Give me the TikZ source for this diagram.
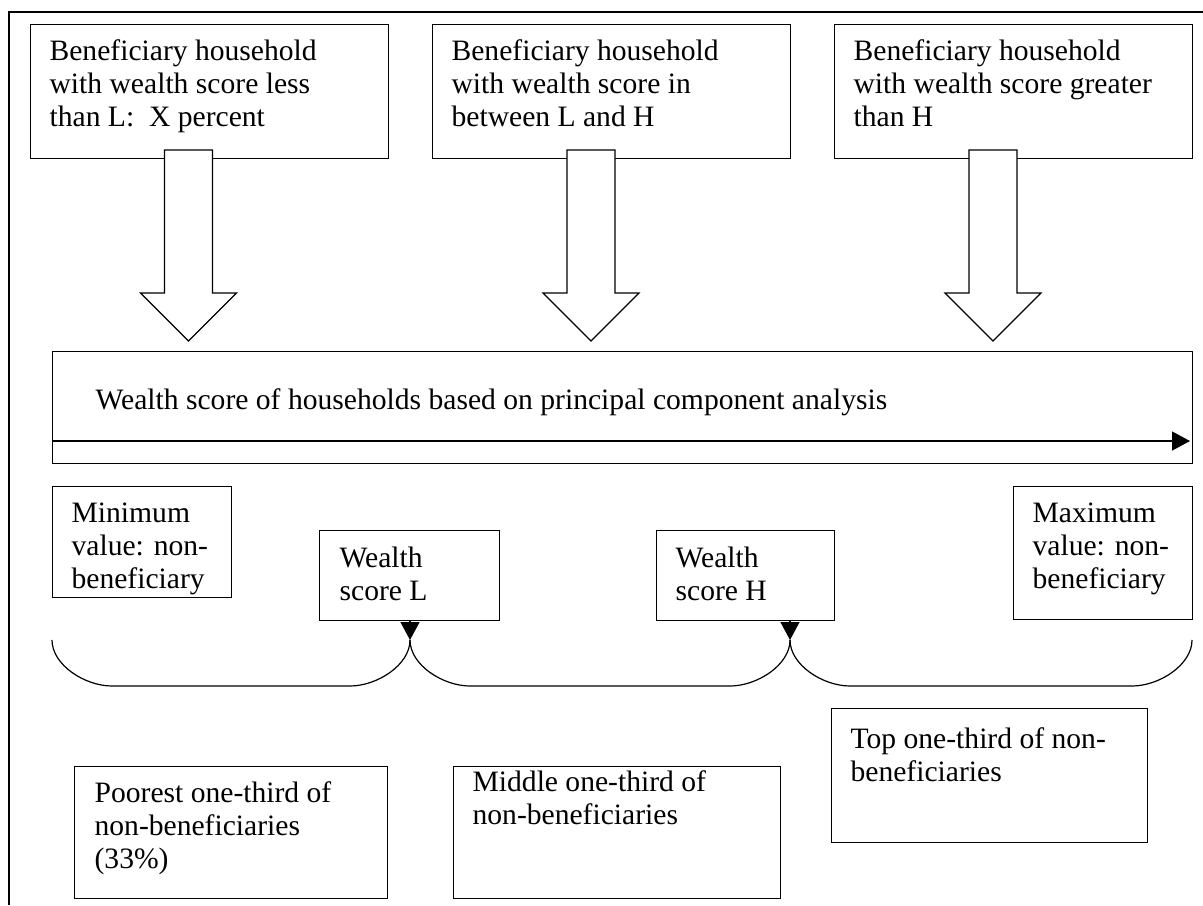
\documentclass[tikz,border=0pt]{standalone}
\usepackage{fontspec}
\setmainfont{Liberation Serif}
\usetikzlibrary{arrows.meta}

% width, height, left margin, first baseline, text
\newcommand{\boxtext}[5]{\parbox[c][#2][t]{#1}{\raggedright\leftskip=#3\relax\rule{0pt}{#4}#5}}

\begin{document}
\begin{tikzpicture}[x=0.5pt,y=-0.5pt,line width=0.6pt]
    \tikzstyle{every node}=[font=\fontsize{14.8}{16.5}\selectfont]
    \tikzstyle{hbox}=[draw,fill=white,inner sep=0pt,anchor=north west]
    \tikzstyle{blockarrow}=[draw,fill=white,line join=miter]
    \tikzstyle{tri}=[-{Triangle[length=9pt,width=9.5pt]}]

    \useasboundingbox (0,0) rectangle (1203,905);
    \draw[line width=0.8pt] (9,905) -- (9,12) -- (1203,12);

    % Beneficiary households
    \node[hbox] (ben-1) at (30,24) {\boxtext{179pt}{67pt}{9.5pt}{18pt}{Beneficiary household\\with wealth score less\\than L:\ \ X percent}};
    \node[hbox] (ben-2) at (432,24) {\boxtext{179pt}{67pt}{9.5pt}{18pt}{Beneficiary household\\with wealth score in\\between L and H}};
    \node[hbox] (ben-3) at (834,24) {\boxtext{179pt}{67pt}{9.5pt}{18pt}{Beneficiary household\\with wealth score greater\\than H}};

    % Block arrows down to the scale
    \foreach \name / \x in {1/188.5, 2/591, 3/993} {
        \coordinate (A-\name) at (\x,150);
        \draw[blockarrow] (A-\name) ++(-24,0) -- ++(48,0) -- ++(0,143) -- ++(24,0)
            -- ++(-48,48) -- ++(-48,-48) -- ++(24,0) -- cycle;
    }

    % Wealth score scale
    \node[hbox] (scale) at (52,351) {\boxtext{570pt}{56pt}{21.5pt}{29pt}{Wealth score of households based on principal component analysis}};
    \coordinate (s-l) at (52,441);
    \coordinate (s-r) at (1190,441);
    \draw[tri] (s-l) -- (s-r);

    % Points on the scale
    \node[hbox] (min) at (52,486) {\boxtext{89.5pt}{55.5pt}{9.5pt}{18pt}{Minimum\\value: non-\\beneficiary}};
    \node[hbox] (wsl) at (319,530) {\boxtext{90pt}{45pt}{10pt}{18.5pt}{Wealth\\score L}};
    \node[hbox] (wsh) at (656,530) {\boxtext{89pt}{45pt}{9.5pt}{18.5pt}{Wealth\\score H}};
    \node[hbox] (max) at (1013,486) {\boxtext{89.5pt}{66.5pt}{9.5pt}{18pt}{Maximum\\value: non-\\beneficiary}};

    \coordinate (J-L) at (410,640);
    \coordinate (J-H) at (790,640);
    \draw[tri] (wsl.south -| J-L) -- (J-L);
    \draw[tri] (wsh.south -| J-H) -- (J-H);

    % Braces for the three groups
    \foreach \a / \b in {52/410, 410/790, 790/1192}
        \draw (\a,640) .. controls (\a,665) and (\a+33,686) .. (\a+60,686)
            -- (\b-60,686) .. controls (\b-33,686) and (\b,665) .. (\b,640);

    % Groups of non-beneficiaries
    \node[hbox] (poor) at (74,766) {\boxtext{156.5pt}{66pt}{10pt}{18pt}{Poorest one-third of\\non-beneficiaries\\(33\%)}};
    \node[hbox] (mid) at (453,766) {\boxtext{163.5pt}{66pt}{9.5pt}{12.5pt}{Middle one-third of\\non-beneficiaries}};
    \node[hbox] (top) at (831,708) {\boxtext{158pt}{67pt}{9.5pt}{20pt}{Top one-third of non-\\beneficiaries}};
\end{tikzpicture}
\end{document}
